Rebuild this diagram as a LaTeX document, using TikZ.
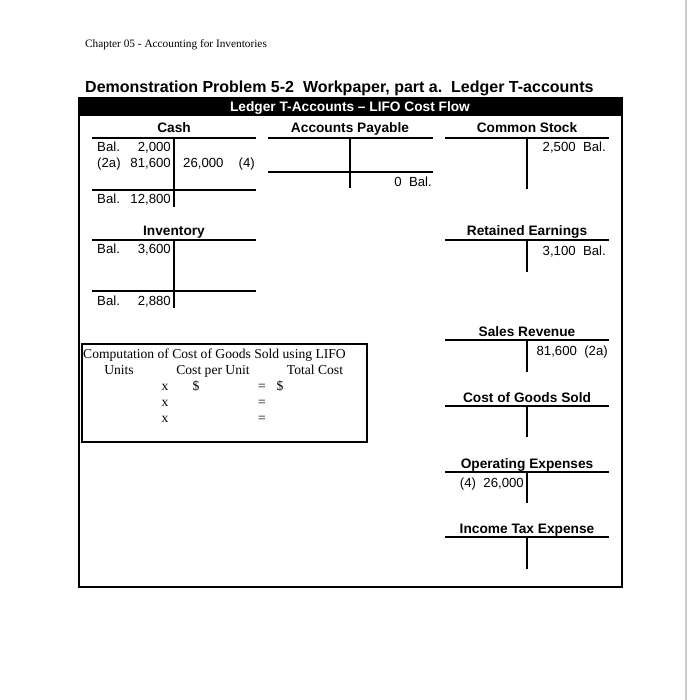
\documentclass[tikz,border=0pt]{standalone}
\usepackage{fontspec}
\setmainfont{Liberation Sans}
\newfontfamily\serifrm{Liberation Serif}
\begin{document}
\begin{tikzpicture}[x=1pt,y=-1pt,
  tline/.style={line width=2.3pt},
  frame/.style={line width=2pt},
  ttl/.style={font=\bfseries\fontsize{13.7}{14}\selectfont, inner sep=0pt, anchor=base},
  txt/.style={font=\fontsize{13.2}{14}\selectfont, inner sep=0pt},
  srf/.style={font=\serifrm\fontsize{13.6}{14}\selectfont, inner sep=0pt, anchor=base}]
\useasboundingbox (0,0) rectangle (688,700);
\fill[white] (0,0) rectangle (688,700);
\draw[black!20, line width=1.5pt] (686,0) -- (686,700);

% page header
\node[font=\serifrm\fontsize{11.3}{12}\selectfont, inner sep=0pt, anchor=base west] (chap) at (85,48) {Chapter 05 - Accounting for Inventories};
\node[font=\bfseries\fontsize{16}{17}\selectfont, inner sep=0pt, anchor=base west] (title) at (85,93) {Demonstration Problem 5-2\ \ Workpaper, part a.\ \ Ledger T-accounts};

% main frame and header bar
\fill[black] (79,98) rectangle (622,116);
\draw[frame] (79,98) rectangle (622,587);
\node[ttl, text=white] (hdr) at (350,112) {Ledger T-Accounts -- LIFO Cost Flow};

% ---- Cash
\node[ttl] (cashT) at (174,133) {Cash};
\draw[tline] (92,138) -- (256,138);
\draw[tline] (92,190) -- (256,190);
\draw[tline] (174,138) -- (174,207);
\node[txt, anchor=base west] (c1a) at (97,152) {Bal.};
\node[txt, anchor=base east] (c1b) at (171,152) {2,000};
\node[txt, anchor=base west] (c2a) at (97,168) {(2a)};
\node[txt, anchor=base east] (c2b) at (171,168) {81,600};
\node[txt, anchor=base west] (c2c) at (183,168) {26,000};
\node[txt, anchor=base east] (c2d) at (255,168) {(4)};
\node[txt, anchor=base west] (c3a) at (97,204) {Bal.};
\node[txt, anchor=base east] (c3b) at (171,204) {12,800};

% ---- Inventory
\node[ttl] (invT) at (174,236) {Inventory};
\draw[tline] (92,240) -- (256,240);
\draw[tline] (92,291) -- (256,291);
\draw[tline] (174,240) -- (174,308);
\node[txt, anchor=base west] (i1a) at (97,254) {Bal.};
\node[txt, anchor=base east] (i1b) at (171,254) {3,600};
\node[txt, anchor=base west] (i2a) at (97,305) {Bal.};
\node[txt, anchor=base east] (i2b) at (171,305) {2,880};

% ---- Accounts Payable
\node[ttl] (apT) at (350,133) {Accounts Payable};
\draw[tline] (268,138) -- (433,138);
\draw[tline] (268,172) -- (433,172);
\draw[tline] (350,138) -- (350,188);
\node[txt, anchor=base east] (ap1) at (432,187) {0\ \ Bal.};

% ---- Common Stock
\node[ttl] (csT) at (527,133) {Common Stock};
\draw[tline] (445,138) -- (609,138);
\draw[tline] (527,138) -- (527,189);
\node[txt, anchor=base east] (cs1) at (606,152) {2,500\ \ Bal.};

% ---- Retained Earnings
\node[ttl] (reT) at (527,236) {Retained Earnings};
\draw[tline] (445,240) -- (609,240);
\draw[tline] (527,240) -- (527,272);
\node[txt, anchor=base east] (re1) at (606,255) {3,100\ \ Bal.};

% ---- Sales Revenue
\node[ttl] (srT) at (527,336) {Sales Revenue};
\draw[tline] (445,340) -- (609,340);
\draw[tline] (527,340) -- (527,372);
\node[txt, anchor=base east] (sr1) at (608,355) {81,600\ \ (2a)};

% ---- Cost of Goods Sold
\node[ttl] (cgT) at (527,402) {Cost of Goods Sold};
\draw[tline] (445,406) -- (609,406);
\draw[tline] (527,406) -- (527,437);

% ---- Operating Expenses
\node[ttl] (oeT) at (527,468) {Operating Expenses};
\draw[tline] (445,472) -- (609,472);
\draw[tline] (527,472) -- (527,503);
\node[txt, anchor=base east] (oe1) at (524,487) {(4)\ \ 26,000};

% ---- Income Tax Expense
\node[ttl] (itT) at (527,533) {Income Tax Expense};
\draw[tline] (445,537) -- (609,537);
\draw[tline] (527,537) -- (527,569);

% ---- Computation box
\draw[frame] (82,344) rectangle (367,442);
\node[srf, anchor=base west] (cmp) at (83,358) {Computation of Cost of Goods Sold using LIFO};
\node[srf] (hu) at (119,374) {Units};
\node[srf] (hc) at (213,374) {Cost per Unit};
\node[srf] (ht) at (315,374) {Total Cost};
\node[srf] (x1) at (165,390) {x};
\node[srf] (d1) at (196,390) {\$};
\node[srf] (e1) at (262,390) {=};
\node[srf] (d2) at (280,390) {\$};
\node[srf] (x2) at (165,406) {x};
\node[srf] (e2) at (262,406) {=};
\node[srf] (x3) at (165,422) {x};
\node[srf] (e3) at (262,422) {=};
\end{tikzpicture}
\end{document}
